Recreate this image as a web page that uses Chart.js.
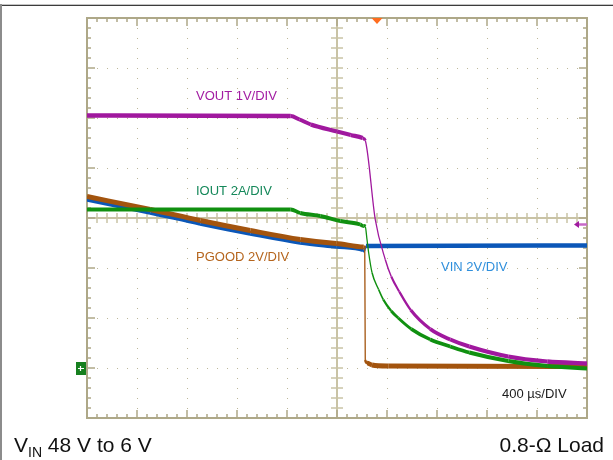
<!DOCTYPE html>
<html>
<head>
<meta charset="utf-8">
<title>Scope capture</title>
<script src="https://cdn.jsdelivr.net/npm/chart.js@4.4.1/dist/chart.umd.min.js"></script>
<style>
	html, body { margin: 0; padding: 0; background: #ffffff; }
	#scope { display: block; }
</style>
</head>
<body>
<canvas id="scope" width="613" height="460"></canvas>
<script>
// time in us (400 us/div, trigger point at 0), levels in divisions from centre line
const voutTime = [-2000, -370, -300, -210, 0, 110, 205, 226, 306, 386, 434, 498, 590, 746, 906, 1058, 1370, 1682, 2000];
const voutDiv = [2.05, 2.04, 1.97, 1.87, 1.73, 1.66, 1.60, 1.55, -0.03, -0.83, -1.17, -1.47, -1.84, -2.22, -2.43, -2.57, -2.77, -2.87, -2.91];

const ioutTime = [-2000, -370, -294, -134, 26, 186, 210, 226, 240, 253, 280, 333, 370, 434, 490, 594, 746, 906, 1058, 1370, 1682, 2000];
const ioutDiv = [0.17, 0.17, 0.10, 0.04, -0.06, -0.13, -0.16, -0.17, -0.43, -0.69, -1.09, -1.43, -1.63, -1.86, -2.00, -2.22, -2.43, -2.57, -2.69, -2.86, -2.96, -3.01];

const vinTime = [-2000, -1494, -1094, -694, -294, -6, 210, 222, 232, 2000];
const vinDiv = [0.37, 0.11, -0.11, -0.31, -0.49, -0.57, -0.64, -0.66, -0.56, -0.55];

const pgoodTime = [-2000, -1494, -1094, -694, -294, -6, 214, 222, 226, 240, 280, 410, 2000];
const pgoodDiv = [0.43, 0.17, -0.05, -0.25, -0.43, -0.51, -0.58, -0.60, -2.84, -2.90, -2.94, -2.96, -2.97];

const xTicks = [-2000, -1600, -1200, -800, -400, 0, 400, 800, 1200, 1600, 2000];
const yTicks = [-4, -3, -2, -1, 0, 1, 2, 3, 4];

const groundLevel = -3;
const triggerLevel = -0.13;
const triggerTime = 320;

const toPoints = (xs, ys) => xs.map((t, i) => ({ x: t, y: ys[i] }));

// thick trace when flat, thin when the beam moves fast (like a sampled scope trace)
const traceWidth = (base) => (ctx) => {
	const dx = Math.abs(ctx.p1.x - ctx.p0.x);
	const dy = Math.abs(ctx.p1.y - ctx.p0.y);
	const len = Math.sqrt(dx * dx + dy * dy) || 1;
	return Math.max(1.3, base * dx / len);
};

const scopeGrid = {
	id: 'scopeGrid',
	beforeDatasetsDraw(chart) {
		const { ctx, chartArea: a, scales: { x, y } } = chart;
		const xp = (t) => Math.round(x.getPixelForValue(t));
		const yp = (v) => Math.round(y.getPixelForValue(v));
		ctx.save();

		// dotted division lines
		ctx.fillStyle = '#bdb79a';
		xTicks.forEach(t => {
			if (t === 0 || t === xTicks[0] || t === xTicks[xTicks.length - 1]) return;
			for (let k = -20; k <= 20; k++) ctx.fillRect(xp(t), yp(k / 5), 1, 1);
		});
		yTicks.forEach(v => {
			if (v === 0 || v === yTicks[0] || v === yTicks[yTicks.length - 1]) return;
			for (let k = -25; k <= 25; k++) ctx.fillRect(xp(k * 80), yp(v), 1, 1);
		});

		// centre cross with minor ticks
		ctx.strokeStyle = '#c9c3a5';
		ctx.lineWidth = 2;
		ctx.beginPath();
		ctx.moveTo(xp(0), a.top); ctx.lineTo(xp(0), a.bottom);
		ctx.moveTo(a.left, yp(0)); ctx.lineTo(a.right, yp(0));
		ctx.stroke();
		ctx.lineWidth = 1.5;
		ctx.beginPath();
		for (let k = -20; k <= 20; k++) {
			ctx.moveTo(xp(0) - 6, yp(k / 5)); ctx.lineTo(xp(0) + 6, yp(k / 5));
		}
		for (let k = -25; k <= 25; k++) {
			ctx.moveTo(xp(k * 80), yp(0) - 5); ctx.lineTo(xp(k * 80), yp(0) + 5);
		}
		ctx.stroke();

		// outer frame with ticks
		ctx.strokeStyle = '#aea888';
		ctx.lineWidth = 2;
		ctx.strokeRect(a.left, a.top, a.right - a.left, a.bottom - a.top);
		ctx.lineWidth = 1.5;
		ctx.beginPath();
		for (let k = -25; k <= 25; k++) {
			const len = k % 5 === 0 ? 8 : 4;
			ctx.moveTo(xp(k * 80), a.top); ctx.lineTo(xp(k * 80), a.top + len);
			ctx.moveTo(xp(k * 80), a.bottom); ctx.lineTo(xp(k * 80), a.bottom - len);
		}
		for (let k = -20; k <= 20; k++) {
			const len = k % 5 === 0 ? 8 : 4;
			ctx.moveTo(a.left, yp(k / 5)); ctx.lineTo(a.left + len, yp(k / 5));
			ctx.moveTo(a.right, yp(k / 5)); ctx.lineTo(a.right - len, yp(k / 5));
		}
		ctx.stroke();
		ctx.restore();
	},

	afterDatasetsDraw(chart) {
		const { ctx, chartArea: a, scales: { x, y } } = chart;
		ctx.save();

		// trace labels
		ctx.font = '13px "Liberation Sans", Arial, sans-serif';
		ctx.textBaseline = 'alphabetic';
		ctx.textAlign = 'left';
		const label = (txt, color, px, py) => { ctx.fillStyle = color; ctx.fillText(txt, px, py); };
		label('VOUT 1V/DIV', '#a21ca2', 196, 100);
		label('IOUT 2A/DIV', '#15885a', 196, 195);
		label('PGOOD 2V/DIV', '#b5651d', 196, 261);
		label('VIN 2V/DIV', '#2f8fdc', 441, 271);
		label('400 \u00b5s/DIV', '#1a1a1a', 502, 398);

		// trigger position marker
		const tx = x.getPixelForValue(triggerTime);
		ctx.fillStyle = '#ff6d1f';
		ctx.beginPath();
		ctx.moveTo(tx - 5.5, a.top); ctx.lineTo(tx + 5.5, a.top); ctx.lineTo(tx, a.top + 6);
		ctx.closePath(); ctx.fill();

		// trigger level arrow
		const ty = y.getPixelForValue(triggerLevel);
		ctx.strokeStyle = '#c768c7';
		ctx.lineWidth = 2.5;
		ctx.beginPath(); ctx.moveTo(a.right - 9, ty); ctx.lineTo(a.right, ty); ctx.stroke();
		ctx.fillStyle = '#a01aa0';
		ctx.beginPath();
		ctx.moveTo(a.right - 13, ty); ctx.lineTo(a.right - 8, ty - 3.5); ctx.lineTo(a.right - 8, ty + 3.5);
		ctx.closePath(); ctx.fill();

		// channel ground marker
		const gy = Math.round(y.getPixelForValue(groundLevel));
		ctx.fillStyle = '#17801f';
		ctx.fillRect(a.left - 11, gy - 6, 10, 13);
		ctx.strokeStyle = '#ffffff';
		ctx.lineWidth = 1.2;
		ctx.beginPath();
		ctx.moveTo(a.left - 9, gy + 0.5); ctx.lineTo(a.left - 3, gy + 0.5);
		ctx.moveTo(a.left - 6.5, gy - 2); ctx.lineTo(a.left - 6.5, gy + 3);
		ctx.stroke();
		ctx.restore();
	},

	afterDraw(chart) {
		const { ctx, width, height } = chart;
		ctx.save();
		// screen frame
		ctx.fillStyle = '#c4c4c4';
		ctx.fillRect(0, 4, width, 1);
		ctx.fillStyle = '#3c3c3c';
		ctx.fillRect(0, 5, width, 1);
		ctx.fillStyle = '#8c8c8c';
		ctx.fillRect(0, 4, 2, height - 4);

		// captions under the screen
		ctx.fillStyle = '#111111';
		ctx.textBaseline = 'alphabetic';
		ctx.textAlign = 'left';
		ctx.font = '21px "Liberation Sans", Arial, sans-serif';
		ctx.fillText('V', 14, 452);
		let cx = 14 + ctx.measureText('V').width;
		ctx.font = '14px "Liberation Sans", Arial, sans-serif';
		ctx.fillText('IN', cx, 457);
		cx += ctx.measureText('IN').width;
		ctx.font = '21px "Liberation Sans", Arial, sans-serif';
		ctx.fillText(' 48 V to 6 V', cx, 452);
		ctx.textAlign = 'right';
		ctx.fillText('0.8-\u03a9 Load', 604, 452);
		ctx.restore();
	}
};

const trace = (label, xs, ys, color, width) => ({
	label: label,
	data: toPoints(xs, ys),
	borderColor: color,
	borderWidth: width,
	pointRadius: 0,
	fill: false,
	cubicInterpolationMode: 'monotone',
	borderJoinStyle: 'round',
	borderCapStyle: 'butt',
	segment: { borderWidth: traceWidth(width) }
});

new Chart(document.getElementById('scope'), {
	type: 'line',
	data: {
		datasets: [
			trace('IOUT', ioutTime, ioutDiv, '#109010', 4),
			trace('VOUT', voutTime, voutDiv, '#a0189e', 4.3),
			trace('PGOOD', pgoodTime, pgoodDiv, '#a3540e', 5),
			trace('VIN', vinTime, vinDiv, '#0b57b8', 4.5)
		]
	},
	options: {
		responsive: false,
		animation: false,
		devicePixelRatio: 1,
		layout: { padding: { left: 87, right: 26, top: 18, bottom: 42 } },
		plugins: { legend: { display: false }, tooltip: { enabled: false } },
		scales: {
			x: { type: 'linear', min: -2000, max: 2000, display: false },
			y: { type: 'linear', min: -4, max: 4, display: false }
		}
	},
	plugins: [scopeGrid]
});
</script>
</body>
</html>
